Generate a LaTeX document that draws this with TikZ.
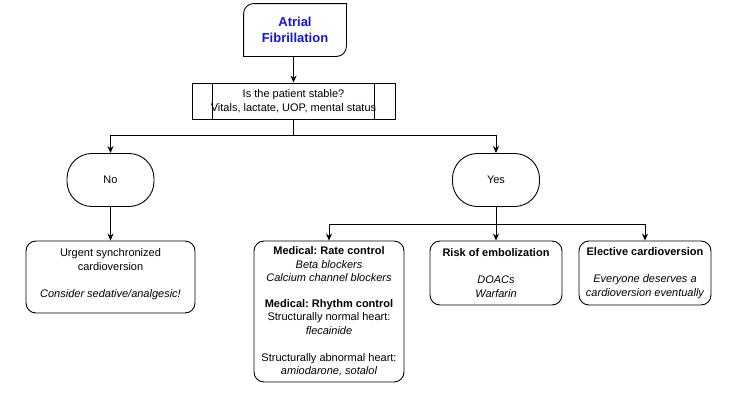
\documentclass[tikz,border=0pt]{standalone}
\usepackage{fontspec}
\setmainfont{Liberation Sans}
\usetikzlibrary{arrows.meta,calc}
\definecolor{afblue}{RGB}{20,20,225}
\frenchspacing
\begin{document}
\begin{tikzpicture}[x=1pt,y=-1pt,
  line width=0.9pt,
  arr/.style={-{Stealth[length=7pt,width=6pt]}},
  txt/.style={font=\fontsize{11}{13.5}\selectfont, align=center, inner sep=0pt},
  rbox/.style={txt, draw, rounded corners=10pt},
  term/.style={txt, draw, rounded corners=25pt, minimum width=87pt, minimum height=53pt}]
\useasboundingbox (0,0) rectangle (732,400);
% top node
\node[txt, font=\fontsize{13}{15.5}\selectfont\bfseries, text=afblue,
      minimum width=102pt, minimum height=52pt] (fib) at (295,30) {Atrial\\Fibrillation};
\draw ([yshift=-10pt]fib.north west) .. controls ([yshift=-4.5pt]fib.north west) and ([xshift=4.5pt]fib.north west) .. ([xshift=10pt]fib.north west)
  -- (fib.north east) -- ([yshift=10pt]fib.south east)
  .. controls ([yshift=4.5pt]fib.south east) and ([xshift=-4.5pt]fib.south east) .. ([xshift=-10pt]fib.south east)
  -- (fib.south west) -- cycle;
% process
\node[txt, draw, minimum width=203pt, minimum height=36pt] (proc) at (293.5,101) {Is the patient stable?\\Vitals, lactate, UOP, mental status};
\draw ([xshift=21pt]proc.north west) -- ([xshift=21pt]proc.south west);
\draw ([xshift=-21pt]proc.north east) -- ([xshift=-21pt]proc.south east);
% terminators
\node[term] (no) at (110.5,180) {No};
\node[term] (yes) at (496,180) {Yes};
% boxes
\node[rbox, minimum width=169pt, minimum height=72pt] (urg) at (110.5,277)
  {Urgent synchronized\\cardioversion\\[13.5pt]\itshape Consider sedative/analgesic!\\[-6pt]\mbox{}};
\node[rbox, minimum width=150pt, minimum height=141pt] (med) at (329,311.5)
  {\bfseries Medical: Rate control\\\itshape Beta blockers\\\itshape Calcium channel blockers\\[12pt]
   \bfseries Medical: Rhythm control\\Structurally normal heart:\\\itshape flecainide\\[13.5pt]
   Structurally abnormal heart:\\\itshape amiodarone, sotalol};
\node[rbox, minimum width=132pt, minimum height=64pt] (risk) at (496,273)
  {\bfseries Risk of embolization\\[13.5pt]\itshape DOACs\\\itshape Warfarin};
\node[rbox, minimum width=132pt, minimum height=64pt] (elec) at (645,273)
  {\bfseries Elective cardioversion\\[13.5pt]\itshape Everyone deserves a\\\itshape cardioversion eventually};
% connectors
\coordinate (j1) at (293.5,135);
\coordinate (j2) at (496,224);
\draw[arr] (fib.south -| proc.north) -- (proc.north);
\draw (proc.south) -- (j1);
\draw[arr] (j1) -| (no.north);
\draw[arr] (j1) -| (yes.north);
\draw[arr] (no.south) -- (urg.north);
\draw[arr] (yes.south) -- (risk.north);
\draw[arr] (j2) -| (med.north);
\draw[arr] (j2) -| (elec.north);
\end{tikzpicture}
\end{document}
